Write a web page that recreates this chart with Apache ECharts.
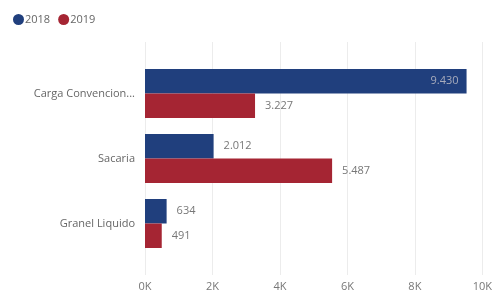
<!DOCTYPE html>
<html>
<head>
<meta charset="utf-8">
<script src="https://cdn.jsdelivr.net/npm/echarts@6/dist/echarts.min.js"></script>
<style>
  html, body { margin: 0; padding: 0; background: #fff; }
  #chart { width: 495px; height: 292px; }
</style>
</head>
<body>
<div id="chart"></div>
<script>
// dados
var categorias = ['Carga Convencional', 'Sacaria', 'Granel Liquido'];
var anos = ['2018', '2019'];
var valores2018 = [9430, 2012, 634];
var valores2019 = [3227, 5487, 491];
var ticksX = [0, 2000, 4000, 6000, 8000, 10000];

var cores = ['#203f7d', '#a52533'];
var fonte = '"Open Sans", "DejaVu Sans", sans-serif';

function fmt(v) {
  return String(v).replace(/\B(?=(\d{3})+(?!\d))/g, '.');
}

var myChart = echarts.init(document.getElementById('chart'));

var option = {
  animation: false,
  color: cores,
  textStyle: { fontFamily: fonte },
  legend: {
    left: 8, top: 9,
    icon: 'circle',
    itemWidth: 11, itemHeight: 11, itemGap: 8,
    textStyle: { color: '#666', fontSize: 11, fontFamily: fonte, padding: [0, 0, 0, -4] },
    data: anos
  },
  grid: [
    { left: 145, right: 9, top: 61, bottom: 36 },   // barras
    { left: 145, right: 9, top: 42, bottom: 17 }    // linhas de grade
  ],
  xAxis: [
    { gridIndex: 0, type: 'value', min: ticksX[0], max: ticksX[ticksX.length - 1], interval: 2000,
      show: false },
    { gridIndex: 1, type: 'value', min: ticksX[0], max: ticksX[ticksX.length - 1], interval: 2000,
      axisLine: { show: false }, axisTick: { show: false },
      splitLine: { show: true, lineStyle: { color: '#ececec', width: 1 } },
      axisLabel: { color: '#777', fontSize: 11, fontFamily: fonte, margin: 6,
        formatter: function (v) { return (v / 1000) + 'K'; } } }
  ],
  yAxis: [
    { gridIndex: 0, type: 'category', inverse: true, data: categorias,
      axisLine: { show: false }, axisTick: { show: false },
      axisLabel: { color: '#666', fontSize: 11, fontFamily: fonte, margin: 10,
        formatter: function (s) { return s.length > 17 ? s.slice(0, 16) + '...' : s; } } },
    { gridIndex: 1, type: 'category', show: false, data: categorias }
  ],
  series: [
    { name: anos[0], type: 'bar', xAxisIndex: 0, yAxisIndex: 0, data: valores2018,
      barWidth: 24.5, barGap: '0%',
      label: { show: true, position: 'right', distance: 10, color: '#777', fontSize: 11,
        fontFamily: fonte, formatter: function (p) { return fmt(p.value); } } },
    { name: anos[1], type: 'bar', xAxisIndex: 0, yAxisIndex: 0, data: valores2019,
      barWidth: 24.5, barGap: '0%',
      label: { show: true, position: 'right', distance: 10, color: '#777', fontSize: 11,
        fontFamily: fonte, formatter: function (p) { return fmt(p.value); } } }
  ]
};

// rótulo dentro da barra quando não cabe à direita
option.series[0].data = valores2018.map(function (v) {
  if (v > 9000) {
    return { value: v, label: { position: 'insideRight', distance: 8, color: '#a8acbc' } };
  }
  return v;
});

myChart.setOption(option);
</script>
</body>
</html>
